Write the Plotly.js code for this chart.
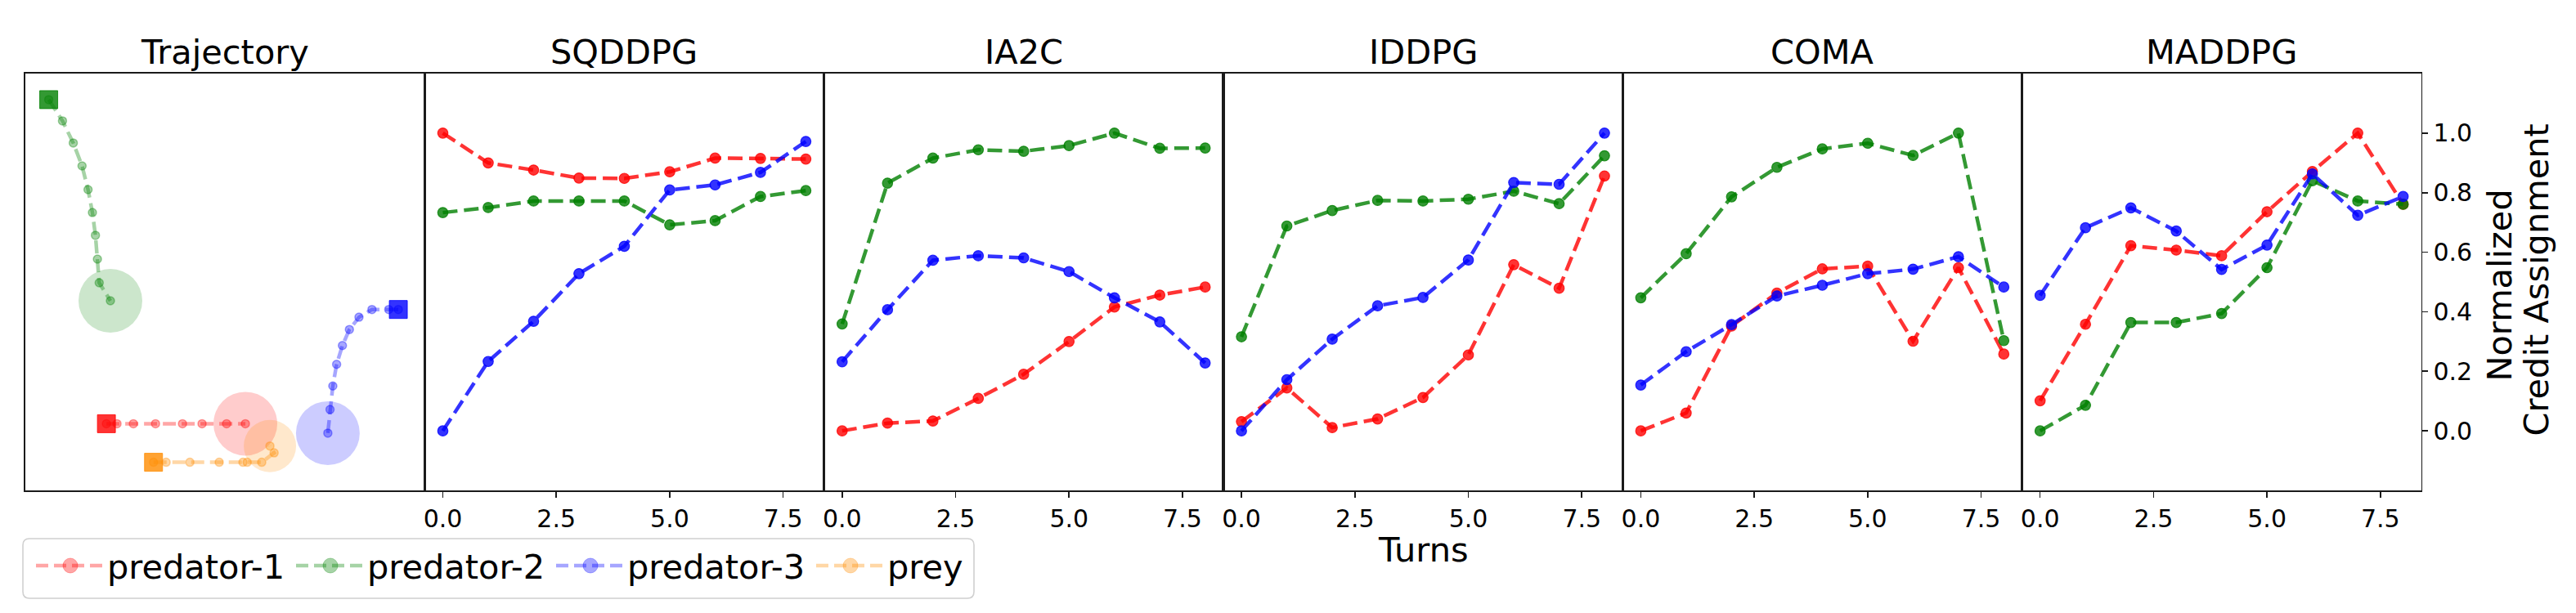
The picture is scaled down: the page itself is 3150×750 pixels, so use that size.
<!DOCTYPE html>
<html>
<head>
<meta charset="utf-8">
<script src="https://cdn.plot.ly/plotly-3.0.1.min.js"></script>
<style>html,body{margin:0;padding:0;background:#fff;}</style>
</head>
<body>
<div id="chart" style="width:3150px;height:750px;"></div>
<script>
// ---- credit assignment per turn (normalized) ----
const turns = [0, 1, 2, 3, 4, 5, 6, 7, 8];
const agentNames = ['predator-1', 'predator-2', 'predator-3', 'prey'];
const methodNames = ['SQDDPG', 'IA2C', 'IDDPG', 'COMA', 'MADDPG'];

const sqddpgPred1 = [1.00, 0.900, 0.876, 0.849, 0.848, 0.870, 0.916, 0.915, 0.913];
const sqddpgPred2 = [0.733, 0.750, 0.772, 0.772, 0.772, 0.692, 0.706, 0.787, 0.807];
const sqddpgPred3 = [0.00, 0.233, 0.368, 0.528, 0.620, 0.809, 0.826, 0.868, 0.972];

const ia2cPred1 = [0.00, 0.026, 0.033, 0.109, 0.190, 0.300, 0.416, 0.456, 0.483];
const ia2cPred2 = [0.359, 0.832, 0.916, 0.944, 0.939, 0.958, 1.00, 0.949, 0.950];
const ia2cPred3 = [0.232, 0.407, 0.573, 0.588, 0.581, 0.535, 0.447, 0.366, 0.228];

const iddpgPred1 = [0.031, 0.144, 0.011, 0.040, 0.112, 0.255, 0.558, 0.479, 0.856];
const iddpgPred2 = [0.316, 0.688, 0.740, 0.774, 0.772, 0.778, 0.805, 0.763, 0.924];
const iddpgPred3 = [0.00, 0.172, 0.308, 0.420, 0.448, 0.574, 0.834, 0.828, 1.00];

const comaPred1 = [0.00, 0.060, 0.352, 0.463, 0.544, 0.553, 0.301, 0.548, 0.258];
const comaPred2 = [0.447, 0.595, 0.786, 0.885, 0.947, 0.966, 0.925, 1.00, 0.303];
const comaPred3 = [0.154, 0.266, 0.357, 0.453, 0.489, 0.528, 0.543, 0.585, 0.483];

const maddpgPred1 = [0.101, 0.358, 0.622, 0.607, 0.588, 0.736, 0.871, 1.00, 0.761];
const maddpgPred2 = [0.00, 0.086, 0.364, 0.364, 0.394, 0.548, 0.840, 0.772, 0.761];
const maddpgPred3 = [0.455, 0.682, 0.749, 0.671, 0.542, 0.624, 0.863, 0.724, 0.787];

// ---- trajectory of each agent in the environment (world coordinates) ----
const trajPred1X = [-0.594, -0.541, -0.459, -0.348, -0.213, -0.115, 0.008, 0.102];
const trajPred1Y = [-0.680, -0.680, -0.680, -0.680, -0.680, -0.680, -0.680, -0.680];
const trajPred2X = [-0.883, -0.814, -0.760, -0.716, -0.686, -0.664, -0.649, -0.639, -0.630, -0.574];
const trajPred2Y = [0.875, 0.773, 0.667, 0.557, 0.443, 0.333, 0.224, 0.110, -0.004, -0.090];
const trajPred3X = [0.868, 0.820, 0.736, 0.671, 0.623, 0.588, 0.559, 0.540, 0.526, 0.515];
const trajPred3Y = [-0.132, -0.132, -0.132, -0.169, -0.228, -0.305, -0.395, -0.499, -0.612, -0.725];
const trajPreyX = [-0.358, -0.295, -0.176, -0.029, 0.090, 0.111, 0.184, 0.246, 0.225];
const trajPreyY = [-0.865, -0.865, -0.865, -0.865, -0.865, -0.865, -0.865, -0.820, -0.787];

const agentRgb = ['255,0,0', '0,128,0', '0,0,255', '255,140,0'];
const catchSize = [78, 78, 78, 64];   // diameter of the capture area drawn at the final position

// ---- geometry ----
const W = 3150, H = 750;
const edges = [31, 519.3, 1007.6, 1495.9, 1984.2, 2472.5, 2960.8];
const plotTop = 90, plotBottom = 600;
const px = v => v / W;
const py = v => 1 - v / H;
const FONT = 'DejaVu Sans';
const rgba = (c, a) => 'rgba(' + c + ',' + a + ')';

const methodSeries = [
  [sqddpgPred1, sqddpgPred2, sqddpgPred3],
  [ia2cPred1, ia2cPred2, ia2cPred3],
  [iddpgPred1, iddpgPred2, iddpgPred3],
  [comaPred1, comaPred2, comaPred3],
  [maddpgPred1, maddpgPred2, maddpgPred3]
];
const trajectories = [
  [trajPred1X, trajPred1Y], [trajPred2X, trajPred2Y],
  [trajPred3X, trajPred3Y], [trajPreyX, trajPreyY]
];

const traces = [];

// trajectory panel: capture areas, paths, starting squares
trajectories.forEach((t, k) => {
  const n = t[0].length;
  traces.push({
    x: [t[0][n - 1]], y: [t[1][n - 1]], xaxis: 'x', yaxis: 'y',
    mode: 'markers', hoverinfo: 'skip', showlegend: false,
    marker: {size: catchSize[k], color: rgba(agentRgb[k], 0.2), line: {width: 0}}
  });
});
trajectories.forEach((t, k) => {
  traces.push({
    x: t[0], y: t[1], xaxis: 'x', yaxis: 'y', name: agentNames[k],
    mode: 'lines+markers', showlegend: false,
    line: {color: rgba(agentRgb[k], 0.35), width: 4.5, dash: '16px,7px'},
    marker: {size: 10, color: rgba(agentRgb[k], 0.35), line: {color: rgba(agentRgb[k], 0.35), width: 1.5}}
  });
});
trajectories.forEach((t, k) => {
  traces.push({
    x: [t[0][0]], y: [t[1][0]], xaxis: 'x', yaxis: 'y',
    mode: 'markers', hoverinfo: 'skip', showlegend: false,
    marker: {symbol: 'square', size: 22, color: rgba(agentRgb[k], 0.8), line: {color: rgba(agentRgb[k], 0.8), width: 1}}
  });
});

// credit assignment panels
methodSeries.forEach((series, m) => {
  const ax = 'x' + (m + 2), ay = 'y' + (m + 2);
  series.forEach((vals, k) => {
    traces.push({
      x: turns, y: vals, xaxis: ax, yaxis: ay, name: agentNames[k],
      mode: 'lines+markers', showlegend: false,
      line: {color: rgba(agentRgb[k], 0.8), width: 4.5, dash: '18px,8px'},
      marker: {size: 12.5, color: rgba(agentRgb[k], 0.8), line: {color: rgba(agentRgb[k], 0.8), width: 1.2}}
    });
  });
});

const frame = {showline: true, mirror: true, linecolor: '#1a1a1a', linewidth: 1.6,
  showgrid: false, zeroline: false, fixedrange: true};

const layout = {
  width: W, height: H, margin: {l: 0, r: 0, t: 0, b: 0},
  paper_bgcolor: '#ffffff', plot_bgcolor: '#ffffff', showlegend: false,
  font: {family: FONT, color: '#000000'},
  annotations: [], shapes: []
};

for (let i = 0; i < 6; i++) {
  const xa = i === 0 ? 'xaxis' : 'xaxis' + (i + 1);
  const ya = i === 0 ? 'yaxis' : 'yaxis' + (i + 1);
  const xid = i === 0 ? 'x' : 'x' + (i + 1);
  const yid = i === 0 ? 'y' : 'y' + (i + 1);
  const xaxis = Object.assign({}, frame, {domain: [px(edges[i]), px(edges[i + 1])], anchor: yid});
  const yaxis = Object.assign({}, frame, {domain: [py(plotBottom), py(plotTop)], anchor: xid});
  if (i === 0) {
    Object.assign(xaxis, {range: [-1, 1], showticklabels: false, ticks: ''});
    Object.assign(yaxis, {range: [-1, 1], showticklabels: false, ticks: ''});
  } else {
    Object.assign(xaxis, {range: [-0.4, 8.4], tickmode: 'array', tickvals: [0, 2.5, 5, 7.5],
      ticktext: ['0.0', '2.5', '5.0', '7.5'], ticks: 'outside', ticklen: 7, tickwidth: 1.6,
      tickcolor: '#1a1a1a', tickfont: {family: FONT, size: 30, color: '#000'}});
    Object.assign(yaxis, {range: [-0.2, 1.2], showticklabels: false, ticks: ''});
  }
  layout[xa] = xaxis;
  layout[ya] = yaxis;
}
Object.assign(layout.yaxis6, {
  side: 'right', showticklabels: true, ticks: 'outside', ticklen: 7, tickwidth: 1.6,
  tickcolor: '#1a1a1a', tickmode: 'array', tickvals: [0, 0.2, 0.4, 0.6, 0.8, 1.0],
  ticktext: ['0.0', '0.2', '0.4', '0.6', '0.8', '1.0'],
  tickfont: {family: FONT, size: 30, color: '#000'}
});

// panel titles
const panelTitles = ['Trajectory'].concat(methodNames);
panelTitles.forEach((t, i) => {
  layout.annotations.push({
    text: t, xref: 'paper', yref: 'paper', showarrow: false,
    x: px((edges[i] + edges[i + 1]) / 2), y: py(63.6), xanchor: 'center', yanchor: 'middle',
    font: {family: FONT, size: 41.5, color: '#000'}
  });
});

// shared x label
layout.annotations.push({
  text: 'Turns', xref: 'paper', yref: 'paper', showarrow: false,
  x: px((edges[1] + edges[6]) / 2), y: py(672.6), xanchor: 'center', yanchor: 'middle',
  font: {family: FONT, size: 41.5, color: '#000'}
});

// y label on the right of the last panel
[['Normalized', 3055.6, 349], ['Credit Assignment', 3100.6, 343]].forEach(([t, x, y]) => {
  layout.annotations.push({
    text: t, xref: 'paper', yref: 'paper', showarrow: false, textangle: -90,
    x: px(x), y: py(y), xanchor: 'center', yanchor: 'middle',
    font: {family: FONT, size: 41.5, color: '#000'}
  });
});

// legend box with rounded corners
(function () {
  const x0 = 28, x1 = 1191, y0 = 659, y1 = 732, r = 8;
  const X = v => px(v), Y = v => py(v);
  const path = 'M' + X(x0 + r) + ',' + Y(y0) +
    ' L' + X(x1 - r) + ',' + Y(y0) + ' Q' + X(x1) + ',' + Y(y0) + ' ' + X(x1) + ',' + Y(y0 + r) +
    ' L' + X(x1) + ',' + Y(y1 - r) + ' Q' + X(x1) + ',' + Y(y1) + ' ' + X(x1 - r) + ',' + Y(y1) +
    ' L' + X(x0 + r) + ',' + Y(y1) + ' Q' + X(x0) + ',' + Y(y1) + ' ' + X(x0) + ',' + Y(y1 - r) +
    ' L' + X(x0) + ',' + Y(y0 + r) + ' Q' + X(x0) + ',' + Y(y0) + ' ' + X(x0 + r) + ',' + Y(y0) + ' Z';
  layout.shapes.push({type: 'path', xref: 'paper', yref: 'paper', path: path,
    line: {color: '#d0d0d0', width: 1.6}, fillcolor: 'rgba(255,255,255,0.8)', layer: 'above'});

  const starts = [44, 362, 680, 998];
  const cy = 692;
  starts.forEach((s, k) => {
    layout.shapes.push({type: 'line', xref: 'paper', yref: 'paper',
      x0: px(s), x1: px(s + 82), y0: py(cy), y1: py(cy),
      line: {color: rgba(agentRgb[k], 0.35), width: 4.5, dash: '15px,7px'}, layer: 'above'});
    const rr = 9, cx = s + 42;
    layout.shapes.push({type: 'circle', xref: 'paper', yref: 'paper',
      x0: px(cx - rr), x1: px(cx + rr), y0: py(cy + rr), y1: py(cy - rr),
      fillcolor: rgba(agentRgb[k], 0.35), line: {color: rgba(agentRgb[k], 0.3), width: 1}, layer: 'above'});
    layout.annotations.push({
      text: agentNames[k], xref: 'paper', yref: 'paper', showarrow: false,
      x: px(s + 85), y: py(693.6), xanchor: 'left', yanchor: 'middle',
      font: {family: FONT, size: 41.5, color: '#000'}
    });
  });
})();

Plotly.newPlot('chart', traces, layout, {staticPlot: true, displayModeBar: false});
</script>
</body>
</html>
